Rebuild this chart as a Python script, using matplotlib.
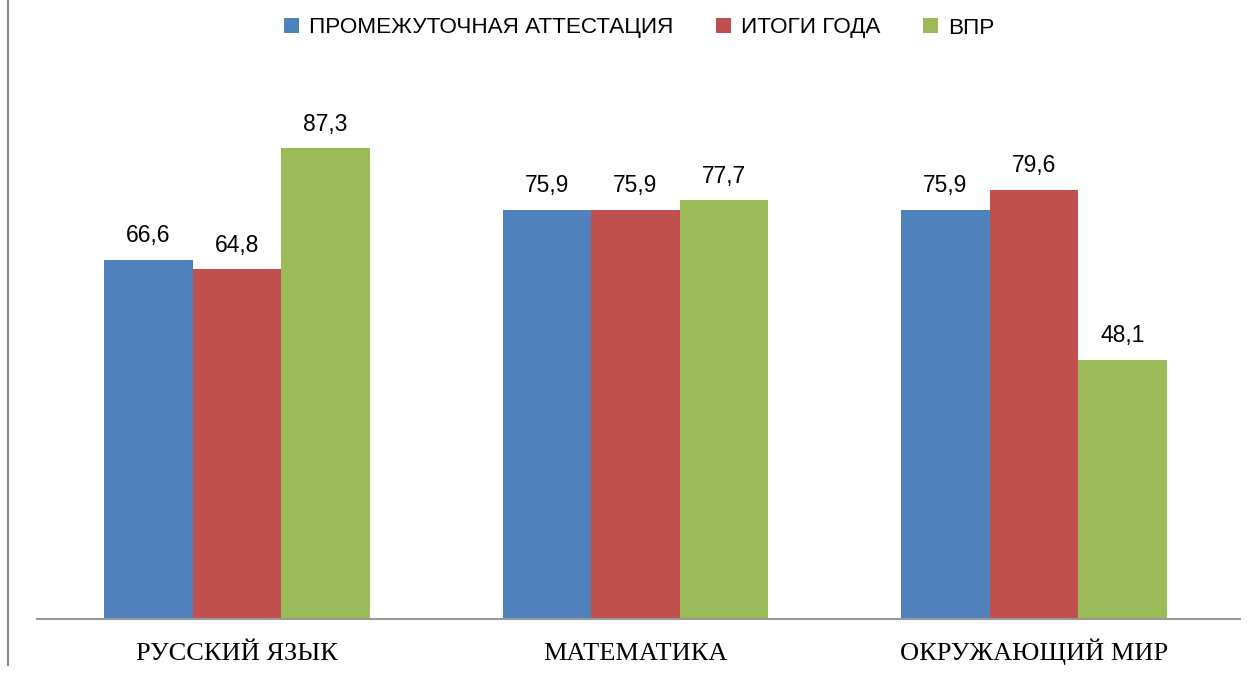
import numpy as np
import matplotlib
matplotlib.use("Agg")
import matplotlib.pyplot as plt
from matplotlib.lines import Line2D

subjects = ["РУССКИЙ ЯЗЫК", "МАТЕМАТИКА", "ОКРУЖАЮЩИЙ МИР"]
series_names = ["ПРОМЕЖУТОЧНАЯ АТТЕСТАЦИЯ", "ИТОГИ ГОДА", "ВПР"]
interim = [66.6, 75.9, 75.9]
year_total = [64.8, 75.9, 79.6]
vpr = [87.3, 77.7, 48.1]
colors = ["#4F81BD", "#C0504D", "#9BBB59"]

W, H = 1251, 675
fig = plt.figure(figsize=(W / 100, H / 100), dpi=100)
ax = fig.add_axes([37 / W, (H - 619) / H, (1240 - 37) / W, (619 - 79.5) / H])

x = np.arange(len(subjects))
bw = 0.222
for i, (vals, name, c) in enumerate(zip([interim, year_total, vpr], series_names, colors)):
    pos = x + (i - 1) * bw
    ax.bar(pos, vals, width=bw, color=c, label=name)
    for p, v in zip(pos, vals):
        ax.text(p, v + 3.2, f"{v:.1f}".replace(".", ","), ha="center", va="baseline",
                fontsize=16.5, family="Liberation Sans")

ax.set_xlim(-0.502, 2.517)
ax.set_ylim(0, 100)
ax.set_yticks([])
ax.set_xticks([])
for xi, s in zip(x, subjects):
    ax.text(xi, -7.6, s, ha="center", va="baseline", family="Liberation Serif", fontsize=19)
for s in ["top", "right", "left"]:
    ax.spines[s].set_visible(False)
ax.spines["bottom"].set_color("#999999")
ax.spines["bottom"].set_linewidth(1.5)

fig.legend(loc="center", bbox_to_anchor=(639 / W, 1 - 28 / H), ncol=3, frameon=False,
           handlelength=0.65, handleheight=0.65, handletextpad=0.45, columnspacing=1.9,
           borderpad=0, prop={"family": "Liberation Sans", "size": 16.2})

fig.add_artist(Line2D([8 / W, 8 / W], [1 - 665 / H, 1], color="#888888", lw=1.5))

fig.savefig("out.png", dpi=100)
